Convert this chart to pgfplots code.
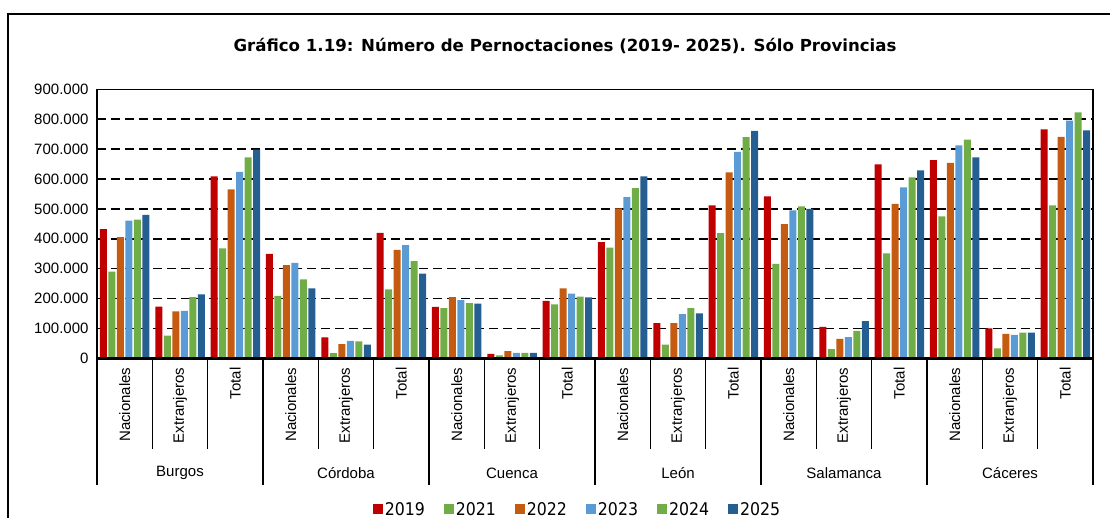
\documentclass[border=0pt]{standalone}
\usepackage{pgfplots}
\pgfplotsset{compat=1.18}
\usepackage{pgfplotstable}
\usepackage{fontspec}
\setmainfont{Liberation Sans}
\newfontfamily\tahoma{DejaVu Sans Condensed}
\newfontfamily\tahomabold{DejaVu Sans}

\definecolor{c2019}{HTML}{C00000}
\definecolor{c2021}{HTML}{70AD47}
\definecolor{c2022}{HTML}{C55A11}
\definecolor{c2023}{HTML}{5B9BD5}
\definecolor{c2024}{HTML}{70AD47}
\definecolor{c2025}{HTML}{255E91}

% Nacionales, Extranjeros, Total for Burgos, Cordoba, Cuenca, Leon, Salamanca, Caceres
\pgfplotstableread{
x  a2019  a2021  a2022  a2023  a2024  a2025
0  432000 290000 405000 461000 464000 480000
1  173000  76000 157000 159000 205000 214000
2  609000 368000 565000 624000 672000 698000
3  349000 209000 312000 319000 264000 234000
4   70000  17000  47000  58000  57000  46000
5  420000 231000 363000 379000 325000 283000
6  172000 168000 205000 195000 185000 183000
7   15000  10000  24000  18000  18000  18000
8  192000 180000 234000 216000 206000 204000
9  389000 370000 502000 539000 569000 609000
10 118000  46000 118000 148000 168000 150000
11 512000 419000 622000 691000 740000 761000
12 542000 316000 449000 495000 508000 500000
13 105000  31000  65000  71000  92000 124000
14 649000 351000 517000 572000 605000 629000
15 663000 475000 654000 712000 732000 672000
16 100000  33000  82000  78000  86000  86000
17 766000 512000 741000 795000 823000 763000
}\datatable

\begin{document}
\begin{tikzpicture}
\path[use as bounding box] (0,0) rectangle (1110pt,518pt);

% outer frame (cut at right and bottom)
\draw[line width=1.5pt] (8pt,-10pt) -- (8pt,504pt) -- (1125pt,504pt);

\node[font=\tahomabold\bfseries\fontsize{16.6}{20}\selectfont] at (565pt,472pt)
  {Gráfico 1.19: Número de Pernoctaciones (2019- 2025). Sólo Provincias};

\begin{axis}[
  at={(97pt,159.7pt)}, anchor=south west,
  width=996pt, height=269pt, scale only axis,
  ybar=1.5pt, bar width=7pt,
  xmin=-0.5, xmax=17.5, ymin=0, ymax=900000,
  xtick={0,...,17},
  xticklabels={Nacionales,Extranjeros,Total,Nacionales,Extranjeros,Total,
    Nacionales,Extranjeros,Total,Nacionales,Extranjeros,Total,
    Nacionales,Extranjeros,Total,Nacionales,Extranjeros,Total},
  ytick={0,100000,...,900000},
  major tick length=0pt,
  scaled y ticks=false,
  /pgf/number format/assume math mode=true,
  /pgf/number format/fixed,
  /pgf/number format/1000 sep={.},
  y tick label style={font=\fontsize{15}{18}\selectfont, xshift=-5pt},
  x tick label style={font=\fontsize{15}{18}\selectfont, rotate=90, anchor=east, inner xsep=9pt},
  ymajorgrids, grid style={black, line width=1.6pt, dash pattern=on 9pt off 5pt},
  axis line style={black, line width=1.4pt},
  legend columns=6,
  legend style={at={(0.4824,-0.5621)}, anchor=center, draw=none, fill=none,
    font=\tahoma\fontsize{17.5}{20}\selectfont,
    /tikz/every even column/.append style={column sep=17pt}},
  legend image code/.code={\fill[#1] (0pt,-5pt) rectangle (10pt,5pt);},
]
\addplot[fill=c2019, draw=none] table[x=x, y=a2019] {\datatable};
\addplot[fill=c2021, draw=none] table[x=x, y=a2021] {\datatable};
\addplot[fill=c2022, draw=none] table[x=x, y=a2022] {\datatable};
\addplot[fill=c2023, draw=none] table[x=x, y=a2023] {\datatable};
\addplot[fill=c2024, draw=none] table[x=x, y=a2024] {\datatable};
\addplot[fill=c2025, draw=none] table[x=x, y=a2025] {\datatable};
\legend{2019,2021,2022,2023,2024,2025}
\end{axis}

% heavy x axis line
\draw[line width=2.6pt] (96pt,159.7pt) -- (1094pt,159.7pt);

% category separators
\foreach \j in {1,2,4,5,7,8,10,11,13,14,16,17}
  \draw[line width=1.3pt] ({97+\j*55.333pt},159.7pt) -- ({97+\j*55.333pt},69pt);
\foreach \k in {0,...,6}
  \draw[line width=1.3pt] ({97+\k*166pt},159.7pt) -- ({97+\k*166pt},33pt);

% province names
\foreach \name [count=\k from 0] in {Burgos,Córdoba,Cuenca,León,Salamanca,Cáceres}
  \node[font=\fontsize{15}{18}\selectfont] at ({180+\k*166pt},45pt) {\name};
\end{tikzpicture}
\end{document}
